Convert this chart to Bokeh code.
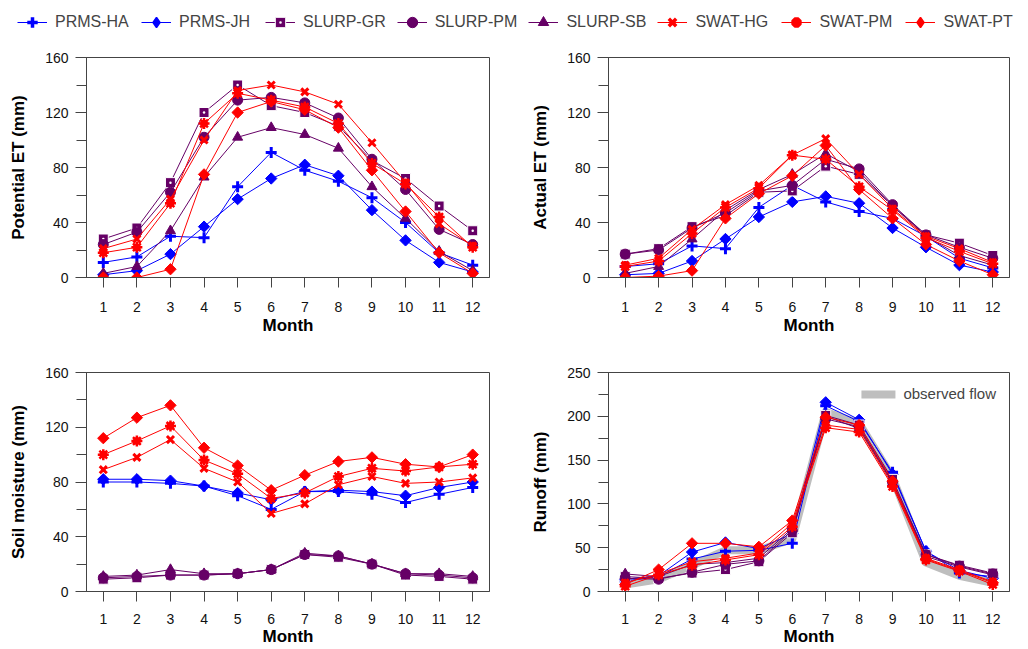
import math
from bokeh.plotting import figure
from bokeh.layouts import column, row
from bokeh.models import (Range1d, SingleIntervalTicker, FixedTicker, Legend,
                          LegendItem, ColumnDataSource)
from bokeh.embed import file_html
from bokeh.resources import INLINE

MONTHS = list(range(1, 13))
MODELS = ["PRMS-HA", "PRMS-JH", "SLURP-GR", "SLURP-PM", "SLURP-SB",
          "SWAT-HG", "SWAT-PM", "SWAT-PT"]

# Potential ET (mm)
PET_PRMS_HA = [11, 15, 30, 29, 66, 91, 78, 70, 58, 40, 18, 9]
PET_PRMS_JH = [2, 5, 17, 37, 57, 72, 82, 74, 49, 27, 11, 4]
PET_SLURP_GR = [28, 36, 69, 120, 140, 125, 120, 110, 85, 72, 52, 34]
PET_SLURP_PM = [24, 33, 62, 102, 129, 131, 127, 116, 86, 64, 35, 24]
PET_SLURP_SB = [3, 8, 34, 73, 102, 109, 104, 94, 66, 43, 19, 5]
PET_SWAT_HG = [21, 28, 57, 100, 136, 140, 135, 126, 98, 69, 39, 23]
PET_SWAT_PM = [18, 22, 54, 112, 134, 129, 124, 112, 83, 68, 44, 22]
PET_SWAT_PT = [0, 0, 6, 75, 120, 128, 122, 109, 78, 48, 18, 3]

# Actual ET (mm)
AET_PRMS_HA = [8, 10, 23, 21, 51, 67, 55, 48, 43, 30, 14, 7]
AET_PRMS_JH = [2, 3, 12, 28, 44, 55, 59, 54, 36, 22, 9, 4]
AET_SLURP_GR = [17, 21, 37, 45, 62, 63, 81, 75, 52, 31, 25, 16]
AET_SLURP_PM = [17, 20, 36, 47, 63, 67, 86, 79, 53, 31, 22, 14]
AET_SLURP_SB = [3, 8, 28, 49, 64, 75, 90, 77, 52, 30, 16, 9]
AET_SWAT_HG = [9, 14, 35, 53, 67, 89, 101, 75, 50, 30, 21, 11]
AET_SWAT_PM = [8, 12, 32, 51, 65, 89, 86, 66, 49, 29, 19, 10]
AET_SWAT_PT = [0, 1, 5, 43, 61, 74, 96, 64, 43, 24, 12, 2]

# Soil moisture (mm)
SM_PRMS_HA = [80, 80, 79, 77, 70, 60, 73, 73, 71, 65, 71, 76]
SM_PRMS_JH = [82, 82, 81, 77, 72, 67, 73, 74, 73, 70, 76, 80]
SM_SLURP_GR = [9, 10, 12, 12, 13, 16, 27, 25, 20, 12, 11, 9]
SM_SLURP_PM = [10, 11, 12, 12, 13, 16, 27, 26, 20, 13, 12, 10]
SM_SLURP_SB = [11, 12, 16, 13, 13, 16, 28, 26, 20, 13, 13, 11]
SM_SWAT_HG = [89, 98, 111, 90, 80, 57, 64, 78, 84, 79, 80, 83]
SM_SWAT_PM = [100, 110, 121, 96, 86, 68, 72, 84, 90, 88, 91, 93]
SM_SWAT_PT = [112, 127, 136, 105, 92, 74, 85, 95, 98, 93, 91, 100]

# Runoff (mm)
RO_OBSERVED = [8, 14, 30, 47, 47, 60, 205, 192, 130, 33, 18, 10]
RO_PRMS_HA = [12, 17, 37, 46, 47, 55, 212, 194, 136, 46, 21, 17]
RO_PRMS_JH = [14, 18, 45, 56, 49, 66, 216, 196, 134, 46, 24, 15]
RO_SLURP_GR = [17, 15, 21, 25, 34, 67, 201, 190, 128, 42, 30, 21]
RO_SLURP_PM = [15, 14, 22, 31, 35, 70, 197, 188, 125, 42, 29, 20]
RO_SLURP_SB = [20, 17, 31, 33, 38, 72, 200, 186, 124, 40, 28, 19]
RO_SWAT_HG = [10, 20, 34, 38, 44, 78, 190, 185, 122, 38, 25, 11]
RO_SWAT_PM = [6, 19, 30, 36, 42, 74, 187, 182, 120, 36, 23, 8]
RO_SWAT_PT = [8, 25, 55, 55, 51, 81, 199, 190, 126, 37, 24, 10]

PET = [PET_PRMS_HA, PET_PRMS_JH, PET_SLURP_GR, PET_SLURP_PM, PET_SLURP_SB,
       PET_SWAT_HG, PET_SWAT_PM, PET_SWAT_PT]
AET = [AET_PRMS_HA, AET_PRMS_JH, AET_SLURP_GR, AET_SLURP_PM, AET_SLURP_SB,
       AET_SWAT_HG, AET_SWAT_PM, AET_SWAT_PT]
SM = [SM_PRMS_HA, SM_PRMS_JH, SM_SLURP_GR, SM_SLURP_PM, SM_SLURP_SB,
      SM_SWAT_HG, SM_SWAT_PM, SM_SWAT_PT]
RO = [RO_PRMS_HA, RO_PRMS_JH, RO_SLURP_GR, RO_SLURP_PM, RO_SLURP_SB,
      RO_SWAT_HG, RO_SWAT_PM, RO_SWAT_PT]

BLUE = "#0000FF"
PURPLE = "#660066"
RED = "#FF0000"
COLORS = [BLUE, BLUE, PURPLE, PURPLE, PURPLE, RED, RED, RED]
FONT = "Liberation Sans"
AX = "#444444"
ROT = math.pi / 4


def add_series(p, i, xs, ys, header=False):
    """Add line + marker(s) for model i; return list of renderers."""
    src = ColumnDataSource(dict(x=xs, y=ys))
    c = COLORS[i]
    rs = [p.line("x", "y", source=src, line_color=c, line_width=1)]
    if i == 0:
        rs.append(p.scatter("x", "y", source=src, marker="cross", size=11,
                            line_color=c, line_width=3.5 if header else 3))
    elif i in (1, 7):
        if header:
            rs.append(p.scatter("x", "y", source=src, marker="diamond",
                                size=12, fill_color=c, line_color=c,
                                line_width=1.5))
        else:
            rs.append(p.scatter("x", "y", source=src, marker="square", size=8,
                                angle=ROT, fill_color=c, line_color=c))
    elif i == 2:
        rs.append(p.scatter("x", "y", source=src, marker="square_dot", size=10,
                            fill_color=c, line_color="white", line_width=1))
    elif i == 3:
        rs.append(p.scatter("x", "y", source=src, marker="circle", size=10,
                            fill_color=c, line_color=c))
    elif i == 4:
        rs.append(p.scatter("x", "y", source=src, marker="triangle", size=10,
                            fill_color=c, line_color=c))
    elif i == 5:
        rs.append(p.scatter("x", "y", source=src, marker="x", size=10,
                            line_color=c, line_width=3.5 if header else 3))
    else:
        rs.append(p.scatter("x", "y", source=src, marker="asterisk", size=11,
                            line_color=c, line_width=4 if header else 2.5))
        if not header:
            rs.append(p.scatter("x", "y", source=src, marker="circle", size=7,
                                fill_color=c, line_color=c))
    return rs


def make_panel(data, ylabel, ymax, interval, left, top, obs=None):
    width = 528 if left else 500
    height = 315 if top else 289
    p = figure(width=width, height=height, output_backend="svg",
               toolbar_location=None, x_range=Range1d(0.5, 12.5),
               y_range=Range1d(0, ymax),
               min_border_left=86 if left else 79,
               min_border_right=39 if left else 19,
               min_border_top=12, min_border_bottom=83 if top else 58)
    p.xgrid.visible = False
    p.ygrid.visible = False
    p.outline_line_color = AX
    p.outline_line_width = 1
    p.background_fill_color = "white"
    p.border_fill_color = "white"

    p.xaxis.ticker = FixedTicker(ticks=MONTHS)
    p.yaxis.ticker = SingleIntervalTicker(interval=interval, num_minor_ticks=2)
    for ax in (p.xaxis, p.yaxis):
        ax.axis_line_color = AX
        ax.major_tick_line_color = AX
        ax.minor_tick_line_color = AX
        ax.major_tick_in = 0
        ax.minor_tick_in = 0
        ax.major_label_text_font = FONT
        ax.major_label_text_font_size = "14px"
        ax.major_label_text_color = "#111111"
        ax.axis_label_text_font = FONT
        ax.axis_label_text_font_style = "bold"
        ax.axis_label_text_font_size = "17px"
        ax.axis_label_text_color = "#000000"
    p.xaxis.major_tick_out = 10
    p.xaxis.minor_tick_line_color = None
    p.xaxis.major_label_standoff = 14 if top else 12
    p.xaxis.axis_label_standoff = 1 if top else 0
    p.xaxis.axis_label = "Month"
    p.yaxis.major_tick_out = 11
    p.yaxis.minor_tick_out = 10
    p.yaxis.major_label_standoff = 7
    p.yaxis.axis_label_standoff = 14
    p.yaxis.axis_label = ylabel

    if obs is not None:
        r_obs = p.line(MONTHS, obs, line_color="#BEBEBE", line_width=8,
                       line_cap="round", line_join="round")
        leg = Legend(items=[LegendItem(label="observed flow", renderers=[r_obs])],
                     location="top_right", border_line_color=None,
                     background_fill_alpha=0, label_text_font=FONT,
                     label_text_font_size="15px", glyph_width=34,
                     glyph_height=14, label_standoff=8, padding=4,
                     margin=13)
        p.add_layout(leg)

    for i, ys in enumerate(data):
        add_series(p, i, MONTHS, ys)
    return p


p1 = make_panel(PET, "Potential ET (mm)", 160, 40, True, True)
p2 = make_panel(AET, "Actual ET (mm)", 160, 40, False, True)
p3 = make_panel(SM, "Soil moisture (mm)", 160, 40, True, False)
p4 = make_panel(RO, "Runoff (mm)", 250, 50, False, False, obs=RO_OBSERVED)

# Header legend (renderers are out of view; only the legend shows)
hdr = figure(width=1028, height=45, output_backend="svg", toolbar_location=None,
             x_axis_type=None, y_axis_type=None, min_border=0,
             x_range=Range1d(100, 101), y_range=Range1d(1000, 1001))
hdr.outline_line_color = None
hdr.xgrid.visible = False
hdr.ygrid.visible = False
items = []
for i, name in enumerate(MODELS):
    rs = add_series(hdr, i, MONTHS, PET[i], header=True)
    items.append(LegendItem(label=name, renderers=rs))
hleg = Legend(items=items, orientation="horizontal", location=(17, 10),
              border_line_color=None, background_fill_alpha=0,
              label_text_font=FONT, label_text_font_size="16px",
              glyph_width=30, glyph_height=26, label_standoff=8,
              label_width=75, spacing=11, padding=0, margin=0)
hdr.add_layout(hleg)

layout = column(hdr, row(p1, p2), row(p3, p4), spacing=0)

open("out.html", "w").write(file_html(layout, INLINE))
